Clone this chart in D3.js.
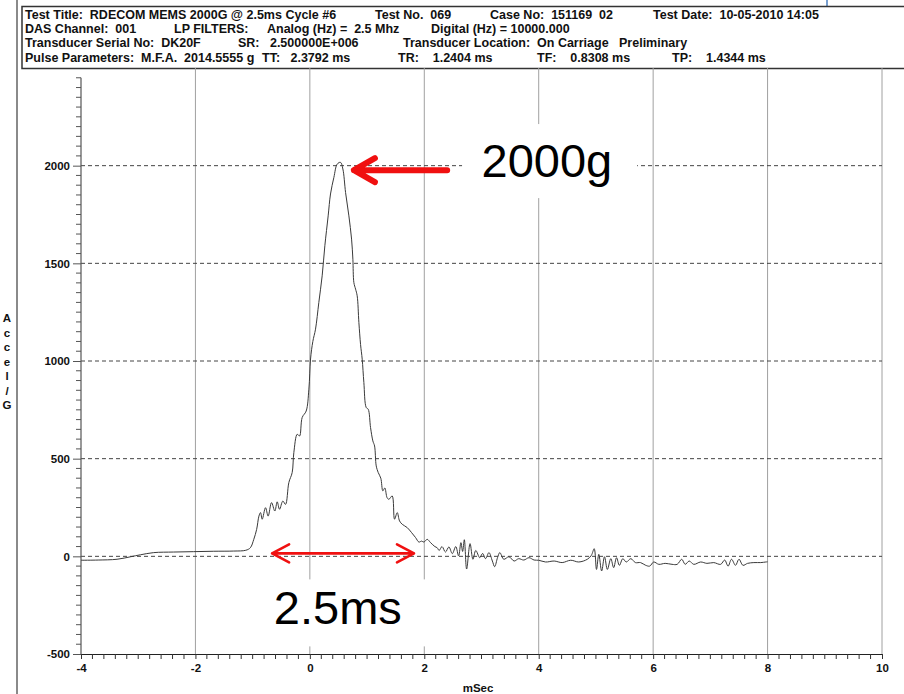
<!DOCTYPE html>
<html>
<head>
<meta charset="utf-8">
<script src="https://cdn.jsdelivr.net/npm/d3@7"></script>
<style>
  body { margin: 0; background: #fff; }
  svg { display: block; font-family: "Liberation Sans", Arial, sans-serif; }
  text { white-space: pre; }
</style>
</head>
<body>
<div id="chart"></div>
<script>
// header block, one row per line, [text, column x]
var headerRows = [
    [["Test Title:  RDECOM MEMS 2000G @ 2.5ms Cycle #6", 25], ["Test No.  069", 375], ["Case No:  151169  02", 490], ["Test Date:  10-05-2010 14:05", 653]],
    [["DAS Channel:  001", 25], ["LP FILTERS:", 174], ["Analog (Hz) =  2.5 Mhz", 267], ["Digital (Hz) = 10000.000", 431]],
    [["Transducer Serial No:  DK20F", 25], ["SR:   2.500000E+006", 238], ["Transducer Location:  On Carriage   Preliminary", 403]],
    [["Pulse Parameters:  M.F.A.  2014.5555 g", 25], ["TT:   2.3792 ms", 262], ["TR:    1.2404 ms", 398], ["TF:    0.8308 ms", 537], ["TP:    1.4344 ms", 672]]
];

// pulse trace (time in ms, accel in g)
var timeMs = [-4.0, -3.7, -3.37, -3.13, -2.96, -2.73, -2.38, -2.03, -1.68, -1.33, -1.12, -1.04, -0.98, -0.93,
    -0.89, -0.862, -0.833, -0.775, -0.729, -0.67, -0.612, -0.571, -0.53, -0.472, -0.425, -0.367, -0.309, -0.28,
    -0.221, -0.18, -0.134, -0.064, -0.017, 0.012, 0.052, 0.099, 0.157, 0.215, 0.262, 0.32, 0.361, 0.42, 0.478,
    0.536, 0.577, 0.624, 0.682, 0.729, 0.752, 0.769, 0.799, 0.827, 0.857, 0.886, 0.915, 0.944, 0.985, 1.02,
    1.061, 1.101, 1.131, 1.16, 1.195, 1.24, 1.276, 1.31, 1.35, 1.381, 1.439, 1.48, 1.527, 1.568, 1.615, 1.702,
    1.779, 1.848, 1.906, 1.953, 1.993, 2.051, 2.11, 2.185, 2.225, 2.26, 2.31, 2.37, 2.43, 2.49, 2.55, 2.6,
    2.64, 2.67, 2.7, 2.74, 2.8, 2.85, 2.9, 2.97, 3.02, 3.07, 3.13, 3.19, 3.23, 3.28, 3.32, 3.39, 3.48, 3.57,
    3.65, 3.74, 3.83, 3.92, 4.0, 4.12, 4.27, 4.41, 4.56, 4.7, 4.85, 4.92, 4.97, 5.01, 5.05, 5.1, 5.15, 5.2,
    5.26, 5.31, 5.36, 5.41, 5.47, 5.53, 5.61, 5.69, 5.78, 5.87, 5.94, 6.01, 6.1, 6.21, 6.33, 6.42, 6.5, 6.56,
    6.63, 6.71, 6.83, 6.94, 7.06, 7.18, 7.25, 7.31, 7.37, 7.44, 7.5, 7.57, 7.65, 7.76, 7.88, 7.97, 8.0];
var accelG = [-20, -19, -15, -2, 8, 19, 22, 24, 26, 27, 31, 44, 87, 138,
    206, 224, 190, 249, 206, 275, 232, 279, 241, 283, 266, 378, 429, 531,
    625, 616, 711, 744, 856, 1010, 1100, 1163, 1300, 1436, 1590, 1743, 1855, 1940, 2008,
    2017, 1983, 1863, 1743, 1624, 1521, 1402, 1368, 1334, 1197, 1085, 1009, 890, 762, 753,
    659, 591, 565, 463, 429, 400, 335, 350, 300, 292, 309, 190, 224, 181, 164, 147,
    121, 96, 73, 78, 73, 87, 70, 50, 44, 30, 50, 22, 48, 14, 50, 2,
    70, 25, 85, -65, 65, -15, 30, -7, 15, -12, 19, -24, -53, -7, 19, -15, -2, -24,
    -12, -19, -7, -19, -20, -29, -24, -32, -20, -29, -15, 5, 39, -67, 10, -75, -2, -67,
    -12, -58, -7, -46, -12, -29, -12, -32, -32, -46, -50, -29, -41, -36, -41, -41, -15, -41,
    -24, -41, -29, -36, -32, -41, -19, -50, -15, -46, -15, -46, -36, -32, -32, -29, -28];

var xMajor = [-4, -2, 0, 2, 4, 6, 8, 10];
var yMajor = [-500, 0, 500, 1000, 1500, 2000];
var yTitle = ["A", "c", "c", "e", "l", "/", "G"];

var width = 904, height = 694;
var svg = d3.select("#chart").append("svg")
    .attr("width", width)
    .attr("height", height);

var x = d3.scaleLinear().domain([-4, 10]).range([81, 882]);
var y = d3.scaleLinear().domain([-500, 2500]).range([654, 68]);

// page border on the left + header box
svg.append("line")
    .attr("x1", 17).attr("x2", 17).attr("y1", 0).attr("y2", height)
    .attr("stroke", "#8a8a8a").attr("stroke-width", 2);
svg.append("line")
    .attr("x1", 827).attr("x2", 827).attr("y1", 0).attr("y2", 6)
    .attr("stroke", "#4a7fc1").attr("stroke-width", 1.5);
svg.append("rect")
    .attr("x", 22).attr("y", 6.5).attr("width", 900).attr("height", 62)
    .attr("fill", "none").attr("stroke", "#333").attr("stroke-width", 1.5);

headerRows.forEach(function(row, i) {
    row.forEach(function(cell) {
        svg.append("text")
            .attr("x", cell[1]).attr("y", 19 + i * 14.2)
            .attr("font-size", 12.5).attr("font-weight", "bold")
            .attr("fill", "#111")
            .text(cell[0]);
    });
});

// grid
var grid = svg.append("g");
grid.selectAll(".vgrid")
    .data(xMajor.filter(function(d) { return d > -4; }))
    .enter().append("line")
    .attr("x1", function(d) { return x(d); })
    .attr("x2", function(d) { return x(d); })
    .attr("y1", y(-500)).attr("y2", y(2500))
    .attr("stroke", "#a0a0a0").attr("stroke-width", 1);
grid.selectAll(".hgrid")
    .data(yMajor.filter(function(d) { return d > -500; }))
    .enter().append("line")
    .attr("x1", x(-4)).attr("x2", x(10))
    .attr("y1", function(d) { return y(d); })
    .attr("y2", function(d) { return y(d); })
    .attr("stroke", "#444").attr("stroke-width", 1)
    .attr("stroke-dasharray", "4,3");

// white boxes behind the annotation text
svg.append("rect")
    .attr("x", x(2.66)).attr("y", y(2213))
    .attr("width", x(5.72) - x(2.66)).attr("height", y(1834) - y(2213))
    .attr("fill", "#fff");
svg.append("rect")
    .attr("x", x(-0.84)).attr("y", y(-118))
    .attr("width", x(2.26) - x(-0.84)).attr("height", y(-461) - y(-118))
    .attr("fill", "#fff");

function plain(d) { return String(d); }

// y axis
var yAxis = svg.append("g")
    .attr("transform", "translate(" + x(-4) + ",0)")
    .call(d3.axisLeft(y).tickValues(yMajor).tickFormat(plain).tickSize(8).tickSizeOuter(0).tickPadding(3));
yAxis.select(".domain").remove();
yAxis.selectAll("line").attr("stroke", "#555");
yAxis.selectAll("text")
    .attr("font-family", "Liberation Sans, Arial, sans-serif")
    .attr("font-size", 11.5).attr("font-weight", "bold").attr("fill", "#111");
yAxis.selectAll(".minor")
    .data(d3.range(-450, 2500, 50).filter(function(d) { return d % 500 !== 0; }))
    .enter().append("line")
    .attr("x1", -5).attr("x2", 0)
    .attr("y1", function(d) { return y(d); })
    .attr("y2", function(d) { return y(d); })
    .attr("stroke", "#555");
yAxis.append("line")
    .attr("x1", 0).attr("x2", 0).attr("y1", y(-500)).attr("y2", y(2450))
    .attr("stroke", "#555").attr("stroke-width", 1.2);

// x axis
var xAxis = svg.append("g")
    .attr("transform", "translate(0," + y(-500) + ")")
    .call(d3.axisBottom(x).tickValues(xMajor).tickFormat(plain).tickSize(5).tickSizeOuter(0).tickPadding(5));
xAxis.select(".domain").attr("stroke", "#222").attr("stroke-width", 1.2);
xAxis.selectAll("line").attr("stroke", "#333");
xAxis.selectAll("text")
    .attr("font-family", "Liberation Sans, Arial, sans-serif")
    .attr("font-size", 11.5).attr("font-weight", "bold").attr("fill", "#111");
xAxis.selectAll(".minor")
    .data(d3.range(-3.8, 10, 0.2).filter(function(d) { return Math.abs(d / 2 - Math.round(d / 2)) > 0.01; }))
    .enter().append("line")
    .attr("x1", function(d) { return x(d); })
    .attr("x2", function(d) { return x(d); })
    .attr("y1", 0).attr("y2", 5)
    .attr("stroke", "#333");

// axis titles
svg.append("text")
    .attr("x", 478).attr("y", 692)
    .attr("text-anchor", "middle")
    .attr("font-size", 11.5).attr("font-weight", "bold").attr("fill", "#111")
    .text("mSec");
svg.selectAll(".ytitle")
    .data(yTitle)
    .enter().append("text")
    .attr("x", 7).attr("y", function(d, i) { return 322 + i * 14.5; })
    .attr("text-anchor", "middle")
    .attr("font-size", 11.5).attr("font-weight", "bold").attr("fill", "#111")
    .text(function(d) { return d; });

// trace
var pts = timeMs.map(function(t, i) { return [t, accelG[i]]; });
var line = d3.line()
    .x(function(d) { return x(d[0]); })
    .y(function(d) { return y(d[1]); })
    .curve(d3.curveCatmullRom.alpha(0.5));
svg.append("path")
    .datum(pts)
    .attr("d", line)
    .attr("fill", "none")
    .attr("stroke", "#3a3a3a")
    .attr("stroke-width", 1);

// annotations
var red = "#f01010";
var a1 = [x(0.77), y(1977)];
svg.append("path")
    .attr("d", "M" + x(2.4) + "," + a1[1] + "L" + a1[0] + "," + a1[1] +
        "M" + (a1[0] + 21) + "," + (a1[1] - 12) + "L" + a1[0] + "," + a1[1] + "L" + (a1[0] + 21) + "," + (a1[1] + 12))
    .attr("fill", "none").attr("stroke", red).attr("stroke-width", 6)
    .attr("stroke-linecap", "round").attr("stroke-linejoin", "round");
svg.append("text")
    .attr("x", x(3.0)).attr("y", y(1942))
    .attr("font-size", 47).attr("fill", "#000")
    .text("2000g");

var l = x(-0.66), r = x(1.82), ay = y(15);
svg.append("path")
    .attr("d", "M" + l + "," + ay + "L" + r + "," + ay +
        "M" + (l + 17) + "," + (ay - 9) + "L" + l + "," + ay + "L" + (l + 17) + "," + (ay + 9) +
        "M" + (r - 17) + "," + (ay - 9) + "L" + r + "," + ay + "L" + (r - 17) + "," + (ay + 9))
    .attr("fill", "none").attr("stroke", red).attr("stroke-width", 2.6)
    .attr("stroke-linecap", "round").attr("stroke-linejoin", "round");
svg.append("text")
    .attr("x", x(-0.63)).attr("y", y(-348))
    .attr("font-size", 47).attr("fill", "#000")
    .text("2.5ms");
</script>
</body>
</html>
